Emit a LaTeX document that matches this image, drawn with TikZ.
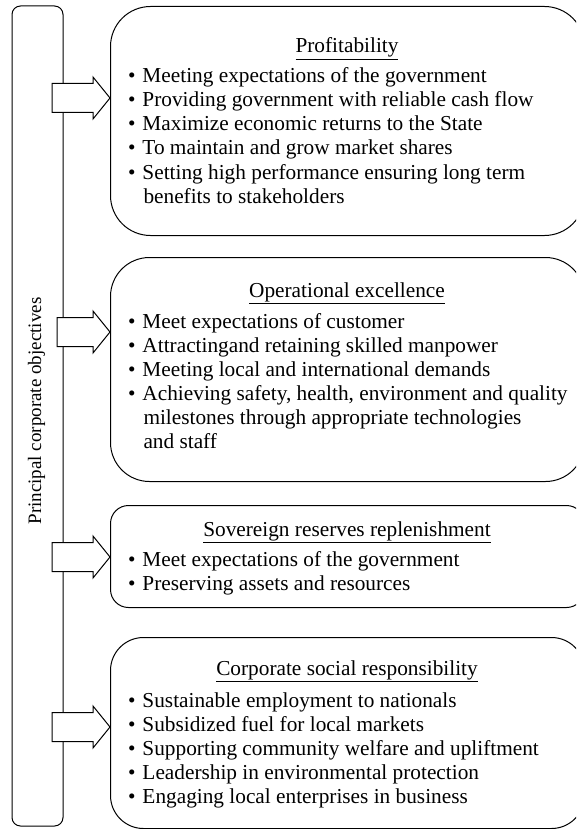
\documentclass[tikz,border=0pt]{standalone}
\usepackage{fontspec}
\setmainfont{Liberation Serif}
% bullet in a fixed-width box, then the item text
\newcommand{\bul}{\makebox[15.5pt][l]{\hspace{1pt}\textbullet}}
\newcommand{\cont}{\hspace*{16.5pt}}
\begin{document}
\begin{tikzpicture}[x=1pt, y=-1pt, line width=1pt,
  objbox/.style={draw, inner sep=0pt, anchor=north west, minimum width=474pt},
  heading/.style={inner sep=0pt, anchor=base, font=\fontsize{21.3}{24}\selectfont},
  item/.style={inner sep=0pt, anchor=base west, font=\fontsize{21.3}{24}\selectfont},
  blockarrow/.style={draw, fill=white, line join=miter}]
\useasboundingbox (0,0) rectangle (576,829);
\clip (0,0) rectangle (576,829);

% left bar with the rotated label
\node[draw, rounded corners=8.5pt, minimum width=51pt, minimum height=820pt, inner sep=0pt] (bar) at (37.5,416) {};
\node[rotate=90, inner sep=0pt, font=\fontsize{19}{22}\selectfont] (barlabel) at (36.5,411) {Principal corporate objectives};

% objective boxes
\node[objbox, minimum height=229pt, rounded corners=40pt] (b1) at (110,6) {};
\node[objbox, minimum height=224pt, rounded corners=39pt] (b2) at (110,257) {};
\node[objbox, minimum height=102pt, rounded corners=18pt] (b3) at (110,505) {};
\node[objbox, minimum height=191pt, rounded corners=33pt] (b4) at (110,637) {};

% headings
\node[heading] (t1) at (347,53) {\underline{Profitability}};
\node[heading] (t2) at (347,297) {\underline{Operational excellence}};
\node[heading] (t3) at (347,536) {\underline{Sovereign reserves replenishment}};
\node[heading] (t4) at (347,675) {\underline{Corporate social responsibility}};

% bullet lists
\foreach \txt [count=\i from 0] in {
  {\bul Meeting expectations of the government},
  {\bul Providing government with reliable cash flow},
  {\bul Maximize economic returns to the State},
  {\bul To maintain and grow market shares},
  {\bul Setting high performance ensuring long term},
  {\cont benefits to stakeholders}}
  \node[item] (l1-\i) at (126.5,83+24*\i) {\txt};

\foreach \txt [count=\i from 0] in {
  {\bul Meet expectations of customer},
  {\bul Attractingand retaining skilled manpower},
  {\bul Meeting local and international demands},
  {\bul Achieving safety, health, environment and quality},
  {\cont milestones through appropriate technologies},
  {\cont and staff}}
  \node[item] (l2-\i) at (126.5,328+24*\i) {\txt};

\foreach \txt [count=\i from 0] in {
  {\bul Meet expectations of the government},
  {\bul Preserving assets and resources}}
  \node[item] (l3-\i) at (126.5,566+24*\i) {\txt};

\foreach \txt [count=\i from 0] in {
  {\bul Sustainable employment to nationals},
  {\bul Subsidized fuel for local markets},
  {\bul Supporting community welfare and upliftment},
  {\bul Leadership in environmental protection},
  {\bul Engaging local enterprises in business}}
  \node[item] (l4-\i) at (126.5,707+24*\i) {\txt};

% block arrows from the bar into each box
\foreach \k/\ty/\tx in {1/98/52, 2/332/57, 3/557/52, 4/727/52} {
  \coordinate (tip\k) at (b\k.west |- 0,\ty);
  \draw[blockarrow] (\tx,\ty-14.5) -- (93,\ty-14.5) -- (93,\ty-21) -- (tip\k)
    -- (93,\ty+21) -- (93,\ty+14.5) -- (\tx,\ty+14.5) -- cycle;
}
\end{tikzpicture}
\end{document}
